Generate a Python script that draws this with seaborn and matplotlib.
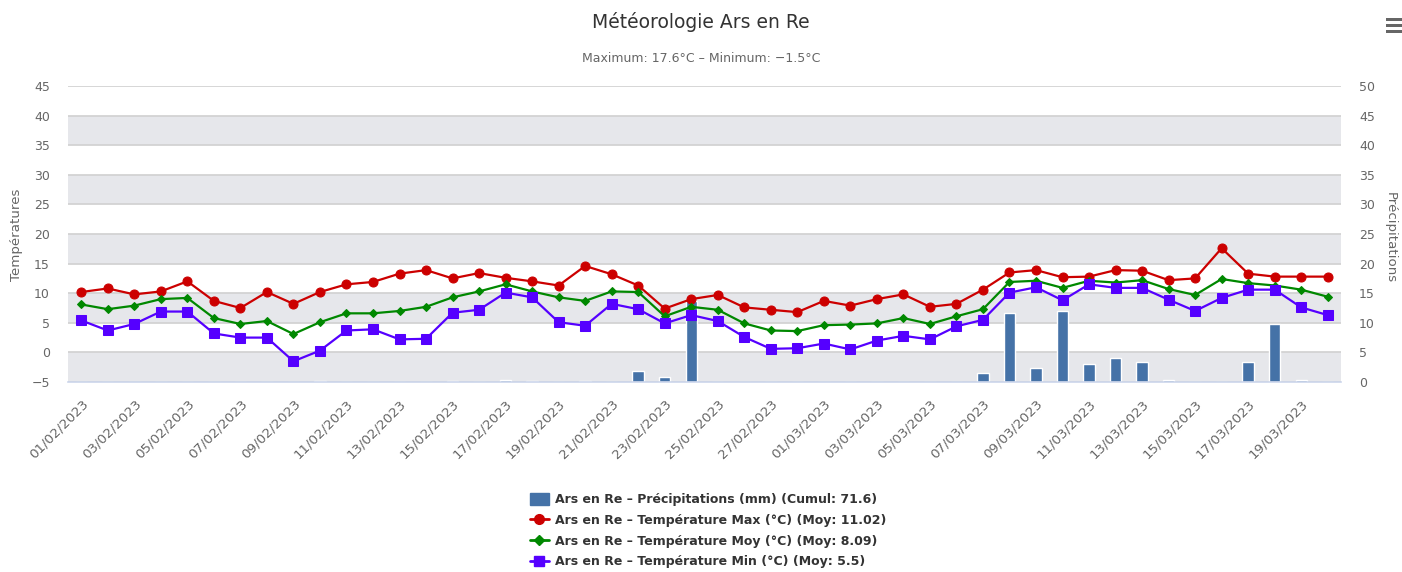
import matplotlib.pyplot as plt
import seaborn as sns
import pandas as pd
from matplotlib.lines import Line2D
from matplotlib.patches import Patch, Rectangle

# one value per day, 01/02/2023 -> 20/03/2023
days = pd.date_range('2023-02-01', '2023-03-20').strftime('%d/%m/%Y').tolist()

temp_max = [10.2, 10.8, 9.8, 10.3, 12.0, 8.7, 7.5, 10.2, 8.2, 10.2,
            11.5, 11.9, 13.3, 13.9, 12.5, 13.4, 12.6, 12.0, 11.3, 14.6,
            13.2, 11.3, 7.4, 9.0, 9.7, 7.6, 7.2, 6.8, 8.7, 7.9,
            9.0, 9.8, 7.7, 8.2, 10.6, 13.5, 13.9, 12.7, 12.8, 13.9,
            13.8, 12.2, 12.5, 17.6, 13.3, 12.8, 12.8, 12.8]
temp_moy = [8.1, 7.3, 7.9, 9.0, 9.2, 5.8, 4.8, 5.3, 3.1, 5.1,
            6.6, 6.6, 7.0, 7.7, 9.3, 10.3, 11.5, 10.3, 9.3, 8.7,
            10.3, 10.2, 6.1, 7.7, 7.2, 4.9, 3.7, 3.6, 4.6, 4.7,
            4.9, 5.8, 4.8, 6.1, 7.3, 11.9, 12.1, 10.9, 12.1, 11.8,
            12.2, 10.7, 9.7, 12.4, 11.7, 11.3, 10.6, 9.4]
temp_min = [5.4, 3.7, 4.8, 6.9, 6.9, 3.2, 2.5, 2.5, -1.5, 0.3,
            3.7, 3.9, 2.2, 2.3, 6.7, 7.2, 10.1, 9.3, 5.1, 4.5,
            8.2, 7.3, 4.9, 6.3, 5.3, 2.6, 0.6, 0.7, 1.5, 0.5,
            2.0, 2.8, 2.2, 4.4, 5.5, 10.1, 11.0, 8.8, 11.5, 10.9,
            10.9, 8.9, 7.0, 9.2, 10.6, 10.6, 7.6, 6.3]
precip = [0, 0, 0, 0, 0, 0, 0, 0, 0, 0.1,
          0, 0, 0, 0, 0.1, 0, 0.4, 0.1, 0, 0.1,
          0, 1.9, 0.8, 13.6, 0, 0, 0, 0, 0, 0,
          0, 0, 0, 0, 1.5, 11.6, 2.4, 12.0, 3.0, 4.0,
          3.4, 0.3, 0, 0, 3.3, 9.8, 0.3, 0]

labels = ['Ars en Re \u2013 Précipitations (mm) (Cumul: 71.6)',
          'Ars en Re \u2013 Température Max (°C) (Moy: 11.02)',
          'Ars en Re \u2013 Température Moy (°C) (Moy: 8.09)',
          'Ars en Re \u2013 Température Min (°C) (Moy: 5.5)']

c_bar = '#4572a7'
c_max = '#cc0000'
c_moy = '#008800'
c_min = '#5500ff'
grey_txt = '#666666'

sns.set_style('white')
plt.rcParams['font.family'] = ['DejaVu Sans']

W, H = 1402, 572
fig = plt.figure(figsize=(W / 100, H / 100), dpi=100)
ax = fig.add_axes([68 / W, 1 - 382 / H, (1341 - 68) / W, (382 - 86) / H])
ax2 = ax.twinx()

# precipitation on the right axis, drawn below the temperature lines
for lo in range(0, 50, 10):
    ax2.axhspan(lo, lo + 5, color='#e6e7eb', lw=0, zorder=0.1)
sns.barplot(x=days, y=precip, ax=ax2, color=c_bar, saturation=1, width=0.43,
            zorder=2)
ax2.set_ylim(0, 50)
ax2.set_yticks(range(0, 55, 5))
ax2.yaxis.grid(True, color='#d3d3d3', lw=1.3)
ax2.set_axisbelow(True)
ax2.set_ylabel('')
ax2.set_xlabel('')

x = list(range(len(days)))
sns.lineplot(x=x, y=temp_max, ax=ax, color=c_max, lw=1.6, marker='o', ms=6.5,
             mec=c_max)
sns.lineplot(x=x, y=temp_moy, ax=ax, color=c_moy, lw=1.6, marker='D', ms=4.5,
             mec=c_moy)
sns.lineplot(x=x, y=temp_min, ax=ax, color=c_min, lw=1.6, marker='s', ms=6.5,
             mec=c_min)

ax.set_zorder(ax2.get_zorder() + 1)
ax.patch.set_visible(False)
ax.set_ylim(-5, 45)
ax.set_yticks(range(-5, 50, 5))
ax.set_xlim(-0.5, len(days) - 0.5)
ax.set_xticks(range(0, len(days), 2))
ax.set_xticklabels(days[::2], rotation=45, ha='right', rotation_mode='anchor')

for a in (ax, ax2):
    for s in a.spines.values():
        s.set_visible(False)
ax.spines['bottom'].set_visible(True)
ax.spines['bottom'].set_color('#ccd6eb')
ax.spines['bottom'].set_linewidth(1.2)

ax.tick_params(axis='x', length=7, width=1, color='#ccd6eb', pad=4,
               labelsize=9.6, labelcolor=grey_txt)
ax.tick_params(axis='y', length=0, pad=13, labelsize=9, labelcolor=grey_txt)
ax2.tick_params(axis='y', length=0, pad=13, labelsize=9, labelcolor=grey_txt)

fig.text(17 / W, 1 - 235 / H, 'Températures', rotation=90, ha='center',
         va='center', fontsize=9.6, color=grey_txt)
fig.text(1390 / W, 1 - 238 / H, 'Précipitations', rotation=270, ha='center',
         va='center', fontsize=9.6, color=grey_txt)

fig.text(0.5, 1 - 22 / H, 'Météorologie Ars en Re', ha='center', va='center',
         fontsize=13.5, color='#333333')
fig.text(0.5, 1 - 58 / H, 'Maximum: 17.6°C \u2013 Minimum: \u22121.5°C',
         ha='center', va='center', fontsize=9, color=grey_txt)

# export menu icon
for yy in (18, 24, 30):
    fig.add_artist(Rectangle((1386 / W, 1 - (yy + 3) / H), 16 / W, 3 / H,
                             transform=fig.transFigure, color='#666666', lw=0))

handles = [Patch(color=c_bar),
           Line2D([], [], color=c_max, lw=2, marker='o', ms=7),
           Line2D([], [], color=c_moy, lw=2, marker='D', ms=5),
           Line2D([], [], color=c_min, lw=2, marker='s', ms=7)]
fig.legend(handles, labels, loc='upper center', bbox_to_anchor=(0.505, 1 - 482 / H),
           frameon=False, prop={'weight': 'bold', 'size': 9},
           labelcolor='#333333', labelspacing=0.62, handlelength=1.5,
           handleheight=1.0, handletextpad=0.5)

plt.savefig('out.png', dpi=100)
